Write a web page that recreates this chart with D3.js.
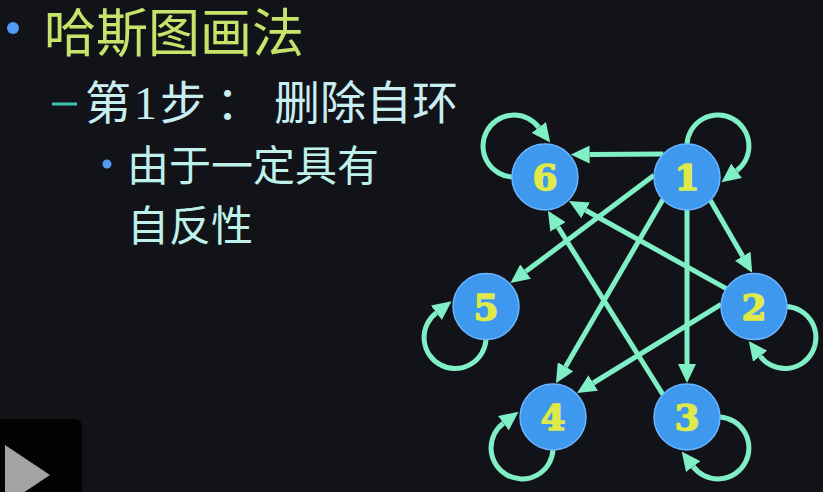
<!DOCTYPE html>
<html>
<head>
<meta charset="utf-8">
<script src="https://cdn.jsdelivr.net/npm/d3@7"></script>
<style>
html,body{margin:0;padding:0;background:#121219;overflow:hidden;}
svg{display:block;}
</style>
</head>
<body>
<svg id="chart" width="823" height="492"></svg>
<script>
// ---- data ----
const titleText = "哈斯图画法";
const stepParts = ["第", "1", "步", "：", "删除自环"];
const reasonLines = ["由于一定具有", "自反性"];
const nodes = ["1", "2", "3", "4", "5", "6"];
const edges = [["1","6"],["1","5"],["1","4"],["1","3"],["1","2"],["2","6"],["2","4"],["3","6"]];
const selfLoops = ["1", "2", "3", "4", "5", "6"];

// ---- layout (abstract units, mapped through scales) ----
const nodeGrid = {"6":[0.22,0],"1":[0.75,0],"5":[0,0.54],"2":[1,0.54],"4":[0.25,1],"3":[0.75,1]};
const portAngles = {"1-6":[-136,-41],"1-5":[183,-44],"1-4":[137,-85],"1-3":[90,-90],"1-2":[45,-93],"2-6":[-147,45],"2-4":[184,-45],"3-6":[-137,85]};
const loopDir = {"1":315,"2":45,"3":45,"4":135,"5":135,"6":225};

const svg = d3.select("#chart");
const W = 823, H = 492;
svg.append("rect").attr("width", W).attr("height", H).attr("fill", "#121219");

const cjk = "'Noto Sans CJK SC','Noto Sans',sans-serif";
const cjkTitle = "'DejaVu Sans','Noto Sans CJK SC',sans-serif";

// ---- text block ----
svg.append("circle").attr("cx", 13).attr("cy", 28).attr("r", 6).attr("fill", "#4f9cf2");
svg.append("text").attr("x", 44).attr("y", 52).attr("font-family", cjkTitle).attr("font-size", 52)
  .attr("fill", "#c6e36a").text(titleText);

svg.append("line").attr("x1", 52).attr("x2", 77).attr("y1", 104).attr("y2", 104)
  .attr("stroke", "#3cc4b2").attr("stroke-width", 3);
const t2 = svg.append("text").attr("y", 119).attr("font-size", 46).attr("fill", "#c9eef2").attr("font-family", cjk);
t2.append("tspan").attr("x", 85).text(stepParts[0]);
t2.append("tspan").attr("font-family", "'Liberation Serif',serif").attr("dx", 3).text(stepParts[1]);
t2.append("tspan").attr("dx", 3).text(stepParts[2]);
t2.append("tspan").attr("dx", 10).text(stepParts[3]);
t2.append("tspan").attr("x", 274).text(stepParts[4]);

svg.append("circle").attr("cx", 107).attr("cy", 164).attr("r", 4.5).attr("fill", "#4f9cf2");
reasonLines.forEach((s, i) => {
  svg.append("text").attr("x", 127).attr("y", 181 + i * 60).attr("font-family", cjk)
    .attr("font-size", 42).attr("fill", "#bff1ea").text(s);
});

// ---- graph ----
const x = d3.scaleLinear().domain([0, 1]).range([486, 754]);
const y = d3.scaleLinear().domain([0, 1]).range([177, 417]);
const R = 33;
const pos = {};
nodes.forEach(n => { pos[n] = {x: x(nodeGrid[n][0]), y: y(nodeGrid[n][1])}; });
const rad = d => d * Math.PI / 180;
const onCircle = (n, a, r) => ({x: pos[n].x + r * Math.cos(rad(a)), y: pos[n].y + r * Math.sin(rad(a))});

const edgeColor = "#80efc6";
const arrowLen = 19;
const defs = svg.append("defs");
defs.append("marker").attr("id", "arr").attr("markerUnits", "userSpaceOnUse")
  .attr("viewBox", "0 -9 19 18").attr("refX", 0).attr("refY", 0)
  .attr("markerWidth", 19).attr("markerHeight", 18).attr("orient", "auto")
  .append("path").attr("d", "M0,-9 L19,0 L0,9 Z").attr("fill", edgeColor);

const SW = 5;
const gEdges = svg.append("g");
edges.forEach(([s, t]) => {
  const pa = portAngles[s + "-" + t];
  const S = onCircle(s, pa[0], R);
  const T = onCircle(t, pa[1], R + 1);
  const dx = T.x - S.x, dy = T.y - S.y, L = Math.hypot(dx, dy);
  const E = {x: T.x - dx / L * arrowLen, y: T.y - dy / L * arrowLen};
  gEdges.append("line").attr("x1", S.x).attr("y1", S.y).attr("x2", E.x).attr("y2", E.y)
    .attr("stroke", edgeColor).attr("stroke-width", SW).attr("marker-end", "url(#arr)");
});

const LR = 31;
selfLoops.forEach(n => {
  const d = loopDir[n];
  const P1 = onCircle(n, d - 45, R);
  const P2 = onCircle(n, d + 45, R + 1);
  const half = R * Math.sin(Math.PI / 4);
  const D = R * Math.cos(Math.PI / 4) + Math.sqrt(LR * LR - half * half);
  const C = onCircle(n, d, D);
  let a1 = Math.atan2(P1.y - C.y, P1.x - C.x);
  let a2 = Math.atan2(P2.y - C.y, P2.x - C.x);
  while (a2 < a1) a2 += 2 * Math.PI;
  if (a2 - a1 < Math.PI) a2 += 2 * Math.PI;
  const aEnd = a2 - (arrowLen - 2) / LR;
  const p = d3.path();
  p.moveTo(P1.x, P1.y);
  p.arc(C.x, C.y, LR, a1, aEnd, false);
  gEdges.append("path").attr("d", p.toString()).attr("fill", "none")
    .attr("stroke", edgeColor).attr("stroke-width", SW).attr("marker-end", "url(#arr)");
});

const gNodes = svg.append("g").selectAll("g").data(nodes).join("g")
  .attr("transform", n => `translate(${pos[n].x},${pos[n].y})`);
gNodes.append("circle").attr("r", R).attr("fill", "#3d98ee").attr("stroke", "#6cb6ff").attr("stroke-width", 1.5);
gNodes.append("text").attr("text-anchor", "middle").attr("dy", "0.36em")
  .attr("font-family", "'DejaVu Serif',serif").attr("font-weight", "bold").attr("font-size", 36)
  .attr("fill", "#dfea4a").attr("stroke", "#dfea4a").attr("stroke-width", 1.5)
  .attr("stroke-linejoin", "round").text(n => n);

// ---- play button ----
svg.append("path").attr("d", "M0,419 H74 Q82,419 82,427 V492 H0 Z").attr("fill", "#030304");
svg.append("path").attr("d", "M5,445 L50,475 L5,505 Z").attr("fill", "#a3a3a3");
</script>
</body>
</html>
